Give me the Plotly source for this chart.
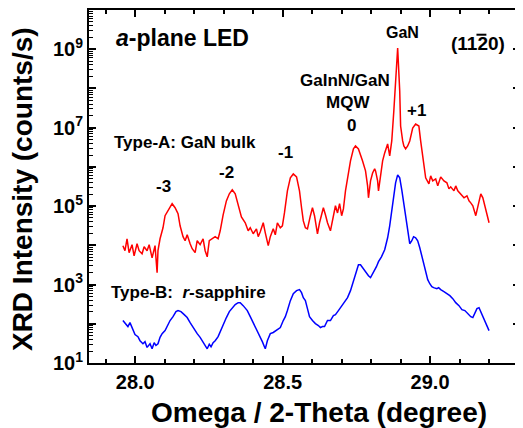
import plotly.graph_objects as go

# ---------------- data ----------------
# Type-A: GaN bulk (red)
type_a_omega = [27.958, 27.965, 27.972, 27.979, 27.989, 27.996, 28.006, 28.013, 28.023, 28.030,
                28.040, 28.047, 28.057, 28.064, 28.067, 28.074, 28.077, 28.084, 28.094, 28.101,
                28.111, 28.125, 28.135, 28.145, 28.152, 28.162, 28.169, 28.176, 28.186, 28.193,
                28.203, 28.210, 28.220, 28.230, 28.237, 28.244, 28.251, 28.261, 28.271, 28.281,
                28.288, 28.298, 28.309, 28.319, 28.329, 28.339, 28.349, 28.360, 28.373, 28.383,
                28.390, 28.400, 28.411, 28.417, 28.424, 28.434, 28.441, 28.451, 28.458, 28.468,
                28.475, 28.482, 28.492, 28.499, 28.506, 28.516, 28.526, 28.536, 28.547, 28.557,
                28.564, 28.570, 28.577, 28.584, 28.594, 28.601, 28.608, 28.618, 28.625, 28.632,
                28.638, 28.645, 28.652, 28.662, 28.669, 28.679, 28.686, 28.693, 28.700, 28.706,
                28.713, 28.723, 28.730, 28.740, 28.747, 28.757, 28.764, 28.771, 28.781, 28.788,
                28.791, 28.798, 28.805, 28.812, 28.815, 28.822, 28.825, 28.832, 28.839, 28.846,
                28.856, 28.863, 28.870, 28.877, 28.883, 28.890, 28.897, 28.900, 28.907, 28.911,
                28.917, 28.924, 28.931, 28.941, 28.951, 28.962, 28.968, 28.975, 28.985, 28.996,
                29.002, 29.009, 29.019, 29.026, 29.036, 29.047, 29.057, 29.064, 29.070, 29.081,
                29.087, 29.094, 29.104, 29.115, 29.125, 29.132, 29.138, 29.145, 29.155, 29.162,
                29.166, 29.172, 29.179, 29.186, 29.193, 29.200]
type_a_counts = [9.8e3, 7.3e3, 1.47e4, 6.5e3, 1.04e4, 5.4e3, 1.10e4, 7.3e3, 6.1e3, 9.2e3,
                 7.3e3, 1.04e4, 4.8e3, 8.2e3, 9.8e3, 2.01e3, 7.3e3, 1.47e4, 2.8e4, 5.7e4,
                 7.6e4, 1.15e5, 9.1e4, 6.4e4, 3.15e4, 1.66e4, 1.31e4, 1.86e4, 1.10e4, 8.2e3,
                 6.5e3, 1.31e4, 1.04e4, 1.47e4, 7.3e3, 5.1e3, 1.31e4, 1.47e4, 1.66e4, 1.47e4,
                 2.35e4, 6.0e4, 1.36e5, 2.06e5, 2.6e5, 2.06e5, 1.02e5, 5.3e4, 3.76e4, 2.35e4,
                 2.8e4, 1.97e4, 2.64e4, 1.66e4, 2.22e4, 3.76e4, 2.09e4, 9.8e3, 1.66e4, 2.64e4,
                 1.86e4, 3.76e4, 2.8e4, 3.15e4, 6.7e4, 2.45e5, 5.25e5, 6.6e5, 5.57e5, 2.45e5,
                 9.1e4, 4.2e4, 2.8e4, 2.64e4, 5.7e4, 9.1e4, 5.7e4, 1.97e4, 3.76e4, 6.0e4,
                 9.1e4, 6.0e4, 3.76e4, 2.35e4, 4.75e4, 1.02e5, 6.7e4, 1.15e5, 5.7e4, 8.5e4,
                 2.45e5, 7.9e5, 1.42e6, 2.87e6, 3.42e6, 2.87e6, 2.14e6, 1.42e6, 7.9e5, 3.28e5,
                 1.63e5, 4.4e5, 7.0e5, 8.9e5, 7.9e5, 4.4e5, 2.45e5, 7.0e5, 1.42e6, 2.27e6,
                 3.85e6, 1.91e6, 4.59e6, 2.66e7, 2.07e8, 1.07e9, 8.6e7, 1.10e7, 4.59e6, 3.42e6,
                 2.87e6, 3.42e6, 4.59e6, 9.8e6, 1.24e7, 1.10e7, 4.59e6, 1.69e6, 5.25e5, 3.69e5,
                 5.9e5, 4.4e5, 4.95e5, 3.28e5, 5.57e5, 4.4e5, 3.92e5, 2.75e5, 3.1e5, 2.45e5,
                 3.28e5, 2.45e5, 2.06e5, 1.63e5, 1.83e5, 1.36e5, 1.21e5, 1.02e5, 5.7e4, 1.02e5,
                 1.36e5, 2.06e5, 1.63e5, 1.02e5, 6.7e4, 3.76e4]

# Type-B: r-sapphire (blue)
type_b_omega = [27.958, 27.968, 27.975, 27.982, 27.992, 27.999, 28.009, 28.016, 28.026, 28.033,
                28.040, 28.050, 28.057, 28.064, 28.070, 28.077, 28.084, 28.091, 28.101, 28.111,
                28.118, 28.128, 28.138, 28.145, 28.155, 28.166, 28.176, 28.186, 28.196, 28.203,
                28.210, 28.220, 28.230, 28.237, 28.244, 28.251, 28.257, 28.264, 28.271, 28.281,
                28.288, 28.298, 28.309, 28.319, 28.329, 28.339, 28.349, 28.356, 28.366, 28.373,
                28.380, 28.390, 28.400, 28.407, 28.414, 28.424, 28.431, 28.438, 28.441, 28.448,
                28.458, 28.468, 28.478, 28.485, 28.492, 28.502, 28.509, 28.516, 28.526, 28.536,
                28.547, 28.557, 28.564, 28.570, 28.577, 28.584, 28.591, 28.601, 28.611, 28.621,
                28.628, 28.635, 28.642, 28.652, 28.662, 28.672, 28.679, 28.689, 28.696, 28.706,
                28.713, 28.720, 28.730, 28.740, 28.747, 28.757, 28.764, 28.771, 28.781, 28.791,
                28.798, 28.808, 28.818, 28.825, 28.835, 28.846, 28.856, 28.863, 28.870, 28.877,
                28.883, 28.890, 28.897, 28.904, 28.911, 28.917, 28.924, 28.931, 28.938, 28.944,
                28.951, 28.958, 28.965, 28.972, 28.979, 28.985, 28.992, 28.999, 29.006, 29.012,
                29.023, 29.029, 29.036, 29.047, 29.057, 29.067, 29.077, 29.087, 29.098, 29.108,
                29.118, 29.128, 29.138, 29.145, 29.152, 29.159, 29.166, 29.172, 29.179, 29.189,
                29.200]
type_b_counts = [121, 101, 85, 107, 67, 53, 47, 37, 31, 35,
                 25, 31, 23, 33, 28, 31, 45, 56, 67, 95,
                 121, 152, 204, 217, 204, 171, 144, 107, 80, 67,
                 56, 45, 33, 28, 23, 30, 26, 33, 37, 47,
                 63, 101, 144, 204, 258, 308, 346, 346, 290, 258,
                 217, 152, 107, 85, 67, 45, 35, 26, 23, 37,
                 56, 60, 67, 75, 80, 121, 152, 217, 389, 587,
                 700, 741, 622, 464, 389, 244, 152, 121, 101, 90,
                 80, 85, 85, 121, 121, 162, 171, 217, 258, 327,
                 389, 464, 700, 1.26e3, 2.01e3, 3.2e3, 3.2e3, 2.69e3, 2.13e3, 1.68e3,
                 1.50e3, 2.01e3, 2.85e3, 3.83e3, 5.1e3, 7.7e3, 1.56e4, 3.15e4, 7.6e4, 1.83e5,
                 3.92e5, 6.25e5, 5.25e5, 2.6e5, 1.15e5, 4.75e4, 2.09e4, 1.10e4, 1.31e4, 1.66e4,
                 1.56e4, 1.31e4, 8.7e3, 5.4e3, 3.03e3, 1.89e3, 1.33e3, 1.05e3, 885, 834,
                 787, 834, 741, 660, 587, 522, 438, 346, 290, 230,
                 217, 182, 152, 144, 182, 244, 258, 204, 162, 107,
                 67]

x_tick_values = [28.0, 28.5, 29.0]
x_tick_labels = ["28.0", "28.5", "29.0"]
x_minor_values = [27.9, 28.1, 28.2, 28.3, 28.4, 28.6, 28.7, 28.8, 28.9, 29.1, 29.2, 29.3]
y_decades = [1, 2, 3, 4, 5, 6, 7, 8, 9, 10]
y_labelled = [1, 3, 5, 7, 9]

FONT = "Liberation Sans, Arial, sans-serif"

fig = go.Figure()
fig.add_trace(go.Scatter(x=type_a_omega, y=type_a_counts, mode="lines",
                         line=dict(color="#ff0000", width=1.5), name="Type-A"))
fig.add_trace(go.Scatter(x=type_b_omega, y=type_b_counts, mode="lines",
                         line=dict(color="#0000ff", width=1.5), name="Type-B"))

y_tickvals = [10 ** k for k in y_decades]
y_ticktext = [("10<sup>%d</sup>" % k) if k in y_labelled else "" for k in y_decades]
y_minor = [m * 10 ** k for k in y_decades[:-1] for m in range(2, 10)]

# the page body adds an 8 px offset, so the figure is 8 px smaller on each side
fig.update_layout(
    width=515, height=420,
    margin=dict(l=81, r=3, t=2, b=65, autoexpand=False),
    paper_bgcolor="white", plot_bgcolor="white",
    showlegend=False,
    font=dict(family=FONT, color="black"),
)
fig.update_xaxes(
    range=[27.843, 29.305], automargin=False,
    tickmode="array", tickvals=x_tick_values, ticktext=x_tick_labels,
    ticks="inside", ticklen=7, tickwidth=1.5, tickcolor="black",
    minor=dict(tickmode="array", tickvals=x_minor_values, ticks="inside", ticklen=4,
               tickwidth=1.5, tickcolor="black"),
    showline=True, linewidth=2, linecolor="black", mirror="ticks",
    showgrid=False, zeroline=False,
    tickfont=dict(family=FONT, size=20, weight="bold"),
)
fig.update_yaxes(
    type="log", range=[1, 10], automargin=False,
    tickmode="array", tickvals=y_tickvals, ticktext=y_ticktext,
    ticks="inside", ticklen=7, tickwidth=1.5, tickcolor="black",
    minor=dict(tickmode="array", tickvals=y_minor, ticks="inside", ticklen=4,
               tickwidth=1.2, tickcolor="black"),
    showline=True, linewidth=2, linecolor="black", mirror="ticks",
    showgrid=False, zeroline=False,
    tickfont=dict(family=FONT, size=20, weight="bold"),
)

def note(text, xp, yp, size=17, angle=0):
    fig.add_annotation(text=text, x=xp, y=yp, xref="paper", yref="paper",
                       xanchor="center", yanchor="middle", showarrow=False, textangle=angle,
                       font=dict(family=FONT, size=size, weight="bold", color="black"))

# axis titles
note("Omega / 2-Theta (degree)", 0.5336, -0.1416, 28)
note("XRD Intensity (counts/s)", -0.153, 0.493, 28, -90)

note("<i>a</i>-plane LED", 0.218, 0.921, 23)
note("GaN", 0.7285, 0.935, 16)
note("(1120)", 0.9026, 0.904, 19)
# bar over the "2" of the Miller index
fig.add_shape(type="line", xref="paper", yref="paper", x0=0.899, x1=0.922, y0=0.930, y1=0.930,
              line=dict(color="black", width=2))
note("GaInN/GaN", 0.594, 0.799)
note("MQW", 0.601, 0.739)
note("0", 0.610, 0.674)
note("+1", 0.761, 0.714)
note("-1", 0.457, 0.595)
note("-2", 0.320, 0.541)
note("-3", 0.174, 0.501)
note("Type-A: GaN bulk", 0.2227, 0.626)
note("Type-B:\u00a0 <i>r</i>-sapphire", 0.2297, 0.201)

fig.write_html("out.html")
